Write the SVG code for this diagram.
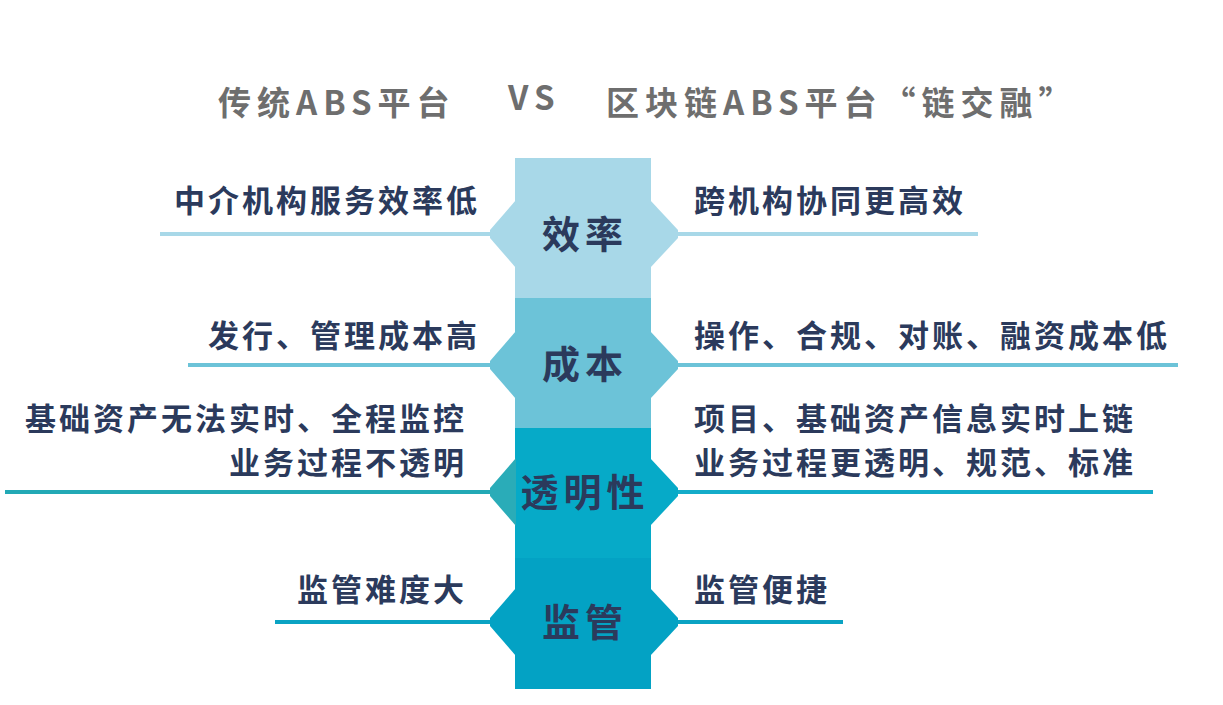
<svg xmlns="http://www.w3.org/2000/svg" width="1223" height="705" viewBox="0 0 1223 705">
<style>
.t{font-family:"Noto Sans CJK SC","Liberation Sans",sans-serif;font-weight:bold;fill:#2b3a5c;font-size:31px;letter-spacing:3px}
.c{font-family:"Noto Sans CJK SC",sans-serif;font-weight:bold;fill:#2b3a5c;font-size:38px;letter-spacing:5px;text-anchor:middle}
.h{font-family:"Noto Sans CJK SC","Liberation Sans",sans-serif;font-weight:bold;fill:#6e6e6e;font-size:33px;letter-spacing:6px}
</style>
<rect width="1223" height="705" fill="#fff"/>
<text class="h" x="218" y="115">传统ABS平台</text>
<text class="h" x="508" y="110">VS</text>
<text class="h" x="606" y="115">区块链ABS平台“链交融”</text>
<g id="connectors" stroke-width="4">
<line x1="160" y1="234" x2="515" y2="234" stroke="#a8d8e8"/>
<line x1="650" y1="234" x2="978" y2="234" stroke="#a8d8e8"/>
<line x1="188" y1="365" x2="515" y2="365" stroke="#6cc3d8"/>
<line x1="650" y1="365" x2="1178" y2="365" stroke="#6cc3d8"/>
<line x1="5" y1="492" x2="515" y2="492" stroke="#22a9b5"/>
<line x1="650" y1="492" x2="1153" y2="492" stroke="#14acc9"/>
<line x1="275" y1="622" x2="515" y2="622" stroke="#0aa3c3"/>
<line x1="650" y1="622" x2="843" y2="622" stroke="#0aa3c3"/>
</g>
<g id="n1"><rect x="515" y="158" width="136" height="141" fill="#a8d8e8"/>
<polygon points="516,200 490,230 490,238 516,268" fill="#a8d8e8"/><polygon points="650,200 678,230 678,238 650,268" fill="#a8d8e8"/>
<text class="c" x="585" y="248">效率</text></g>
<g id="n2"><rect x="515" y="298" width="136" height="131" fill="#6cc3d8"/>
<polygon points="516,331 490,361 490,369 516,399" fill="#6cc3d8"/><polygon points="650,331 678,361 678,369 650,399" fill="#6cc3d8"/>
<text class="c" x="585" y="378">成本</text></g>
<g id="n3"><rect x="515" y="428" width="136" height="131" fill="#06aac8"/>
<polygon points="516,458 490,488 490,496 516,526" fill="#2aacb8"/><polygon points="650,458 678,488 678,496 650,526" fill="#06aac8"/>
<text class="c" x="585" y="506">透明性</text></g>
<g id="n4"><rect x="515" y="558" width="136" height="131" fill="#03a2c4"/>
<polygon points="516,588 490,618 490,626 516,656" fill="#03a2c4"/><polygon points="650,588 678,618 678,626 650,656" fill="#03a2c4"/>
<text class="c" x="585" y="636">监管</text></g>
<g id="left">
<text class="t" x="480" y="212" text-anchor="end">中介机构服务效率低</text>
<text class="t" x="480" y="347" text-anchor="end">发行、管理成本高</text>
<text class="t" x="467" y="430" text-anchor="end">基础资产无法实时、全程监控</text>
<text class="t" x="467" y="474" text-anchor="end">业务过程不透明</text>
<text class="t" x="467" y="601" text-anchor="end">监管难度大</text>
</g>
<g id="right">
<text class="t" x="694" y="212">跨机构协同更高效</text>
<text class="t" x="694" y="347">操作、合规、对账、融资成本低</text>
<text class="t" x="694" y="430">项目、基础资产信息实时上链</text>
<text class="t" x="694" y="474">业务过程更透明、规范、标准</text>
<text class="t" x="694" y="601">监管便捷</text>
</g>
</svg>
